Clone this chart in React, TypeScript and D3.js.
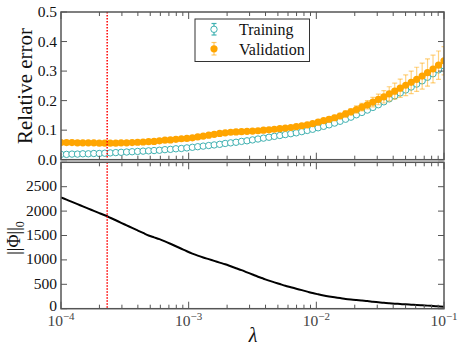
import React from "react";
import * as d3 from "d3";

// log10(lambda) grid
const logLambda = [
  -4.0, -3.957, -3.914, -3.871, -3.829, -3.786, -3.743, -3.7, -3.657, -3.614,
  -3.571, -3.529, -3.486, -3.443, -3.4, -3.357, -3.314, -3.271, -3.229, -3.186,
  -3.143, -3.1, -3.057, -3.014, -2.971, -2.929, -2.886, -2.843, -2.8, -2.757,
  -2.714, -2.671, -2.629, -2.586, -2.543, -2.5, -2.457, -2.414, -2.371, -2.329,
  -2.286, -2.243, -2.2, -2.157, -2.114, -2.071, -2.029, -1.986, -1.943, -1.9,
  -1.857, -1.814, -1.771, -1.729, -1.686, -1.643, -1.6, -1.557, -1.514, -1.471,
  -1.429, -1.386, -1.343, -1.3, -1.257, -1.214, -1.171, -1.129, -1.086, -1.043,
  -1.0,
];

const trainErr = [
  0.018, 0.018, 0.019, 0.019, 0.02, 0.02, 0.021, 0.021, 0.022, 0.023,
  0.024, 0.025, 0.026, 0.027, 0.028, 0.029, 0.03, 0.031, 0.032, 0.034,
  0.035, 0.037, 0.038, 0.04, 0.042, 0.044, 0.046, 0.048, 0.05, 0.052,
  0.055, 0.057, 0.059, 0.062, 0.064, 0.067, 0.07, 0.073, 0.076, 0.079,
  0.082, 0.085, 0.088, 0.091, 0.095, 0.099, 0.103, 0.108, 0.113, 0.118,
  0.124, 0.13, 0.137, 0.144, 0.152, 0.16, 0.168, 0.177, 0.186, 0.196,
  0.206, 0.216, 0.226, 0.236, 0.246, 0.256, 0.267, 0.279, 0.291, 0.304,
  0.318,
];
const trainSd = [
  0.001, 0.001, 0.001, 0.001, 0.001, 0.001, 0.001, 0.001, 0.001, 0.001,
  0.001, 0.001, 0.001, 0.001, 0.001, 0.001, 0.001, 0.001, 0.001, 0.001,
  0.001, 0.001, 0.001, 0.001, 0.001, 0.001, 0.001, 0.001, 0.001, 0.001,
  0.001, 0.001, 0.001, 0.001, 0.001, 0.001, 0.001, 0.001, 0.001, 0.001,
  0.001, 0.001, 0.001, 0.001, 0.001, 0.002, 0.002, 0.002, 0.002, 0.002,
  0.002, 0.002, 0.002, 0.002, 0.002, 0.002, 0.003, 0.003, 0.003, 0.003,
  0.003, 0.003, 0.004, 0.004, 0.004, 0.004, 0.004, 0.005, 0.005, 0.005,
  0.005,
];

const validErr = [
  0.058, 0.058, 0.058, 0.057, 0.057, 0.057, 0.057, 0.056, 0.056, 0.056,
  0.056, 0.057, 0.057, 0.058, 0.059, 0.06, 0.061, 0.062, 0.064, 0.066,
  0.067, 0.069, 0.071, 0.072, 0.074, 0.077, 0.08, 0.083, 0.086, 0.089,
  0.091, 0.093, 0.094, 0.095, 0.096, 0.097, 0.098, 0.1, 0.101, 0.103,
  0.105, 0.107, 0.109, 0.112, 0.115, 0.118, 0.122, 0.127, 0.132, 0.137,
  0.142, 0.148, 0.155, 0.162, 0.17, 0.178, 0.186, 0.195, 0.204, 0.213,
  0.223, 0.232, 0.242, 0.252, 0.262, 0.272, 0.283, 0.295, 0.307, 0.32,
  0.335,
];
const validSd = [
  0.002, 0.002, 0.002, 0.002, 0.002, 0.002, 0.002, 0.002, 0.002, 0.002,
  0.002, 0.002, 0.002, 0.002, 0.002, 0.002, 0.002, 0.002, 0.002, 0.002,
  0.002, 0.003, 0.003, 0.003, 0.003, 0.003, 0.003, 0.003, 0.003, 0.003,
  0.003, 0.003, 0.003, 0.003, 0.003, 0.003, 0.004, 0.004, 0.004, 0.004,
  0.004, 0.005, 0.005, 0.005, 0.006, 0.006, 0.006, 0.007, 0.007, 0.008,
  0.008, 0.009, 0.01, 0.011, 0.012, 0.013, 0.014, 0.016, 0.018, 0.021,
  0.024, 0.027, 0.031, 0.035, 0.038, 0.041, 0.044, 0.046, 0.047, 0.048,
  0.048,
];

const phiNorm = [
  2280, 2234, 2188, 2142, 2096, 2050, 2004, 1958, 1914, 1864,
  1812, 1760, 1708, 1656, 1604, 1552, 1500, 1462, 1425, 1380,
  1331, 1280, 1228, 1177, 1130, 1088, 1050, 1015, 980, 945,
  910, 870, 830, 790, 745, 700, 655, 615, 575, 540,
  505, 470, 440, 410, 380, 350, 320, 295, 272, 252,
  234, 218, 200, 187, 176, 166, 157, 144, 132, 120,
  111, 103, 96, 89, 83, 77, 70, 63, 56, 49,
  42,
];

const lambdaOpt = 2.3e-4;
const xTickExps = [-4, -3, -2, -1];
const topYTicks = [0, 0.1, 0.2, 0.3, 0.4, 0.5];
const botYTicks = [0, 500, 1000, 1500, 2000, 2500, 3000];
const botYLabels = ["0", "500", "1000", "1500", "2000", "2500", ""];
const seriesNames = ["Training", "Validation"];

const X0 = 61, X1 = 444;
const TY0 = 12, TY1 = 159.7;
const BY0 = 162.3, BY1 = 308.7;

const FONT = '"Liberation Serif"';
const TEAL = "#3fb1b1";
const ORANGE = "#ffa500";
const SPINE = "#555";

export default function App() {
  const lambdas = logLambda.map((e) => Math.pow(10, e));
  const x = d3.scaleLog().domain([1e-4, 1e-1]).range([X0, X1]);
  const yT = d3.scaleLinear().domain([0, 0.5]).range([TY1, TY0]);
  const yB = d3.scaleLinear().domain([0, 3000]).range([BY1, BY0]);
  const xTicks = x.ticks();
  const isMajor = (v: number) => Math.abs(Math.log10(v) - Math.round(Math.log10(v))) < 1e-6;
  const line = d3
    .line<number>()
    .x((_, i) => x(lambdas[i]))
    .y((d) => yB(d))
    .curve(d3.curveMonotoneX);

  const xTickMarks = (yb: number, yt: number) =>
    xTicks.map((t, i) => {
      const len = isMajor(t) ? 7 : 4;
      return (
        <g key={"xt" + i}>
          <line x1={x(t)} x2={x(t)} y1={yb} y2={yb - len} stroke={SPINE} strokeWidth={1} />
          <line x1={x(t)} x2={x(t)} y1={yt} y2={yt + len} stroke={SPINE} strokeWidth={1} />
        </g>
      );
    });

  const errBars = (vals: number[], sds: number[], color: string, op: number, key: string) =>
    vals.map((v, i) => {
      const cx = x(lambdas[i]);
      const t = yT(v + sds[i]);
      const b = yT(v - sds[i]);
      return (
        <g key={key + i} stroke={color} strokeOpacity={op} strokeWidth={1.2}>
          <line x1={cx} x2={cx} y1={t} y2={b} />
          <line x1={cx - 2.5} x2={cx + 2.5} y1={t} y2={t} />
          <line x1={cx - 2.5} x2={cx + 2.5} y1={b} y2={b} />
        </g>
      );
    });

  const txt = { fontFamily: FONT };

  return (
    <svg width={463} height={352} style={{ position: "absolute", left: 0, top: 0 }}>
      <defs>
        <clipPath id="clipTop">
          <rect x={X0} y={TY0} width={X1 - X0} height={TY1 - TY0} />
        </clipPath>
        <clipPath id="clipBot">
          <rect x={X0} y={BY0} width={X1 - X0} height={BY1 - BY0} />
        </clipPath>
      </defs>
      <rect width={463} height={352} fill="#fff" />

      {/* TOP PANEL */}
      <g clipPath="url(#clipTop)">
        {errBars(trainErr, trainSd, TEAL, 0.8, "te")}
        {trainErr.map((v, i) => (
          <circle key={"tc" + i} cx={x(lambdas[i])} cy={yT(v)} r={3.2} fill="#fff" stroke={TEAL} strokeWidth={1} />
        ))}
        {errBars(validErr, validSd, ORANGE, 0.5, "ve")}
        {validErr.map((v, i) => (
          <circle key={"vc" + i} cx={x(lambdas[i])} cy={yT(v)} r={3.6} fill={ORANGE} />
        ))}
        <line x1={x(lambdaOpt)} x2={x(lambdaOpt)} y1={TY0} y2={TY1} stroke="#f00" strokeWidth={1.5} strokeDasharray="1.5,1.5" />
      </g>
      {xTickMarks(TY1, TY0)}
      {topYTicks.map((t, i) => (
        <g key={"yt" + i}>
          <line x1={X0} x2={X0 + 6} y1={yT(t)} y2={yT(t)} stroke={SPINE} />
          <line x1={X1} x2={X1 - 6} y1={yT(t)} y2={yT(t)} stroke={SPINE} />
          <text style={txt} x={57} y={yT(t) + 5} textAnchor="end" fontSize={15.5} fill="#111">
            {d3.format(".1f")(t)}
          </text>
        </g>
      ))}
      <rect x={X0} y={TY0} width={X1 - X0} height={TY1 - TY0} fill="none" stroke={SPINE} strokeWidth={1.5} />
      <text style={txt} transform={`translate(32,86) rotate(-90)`} textAnchor="middle" fontSize={21} fill="#111">
        Relative error
      </text>

      {/* Legend */}
      <rect x={195} y={19} width={114.5} height={42.5} fill="#fff" stroke="#333" strokeWidth={1} />
      <g stroke={TEAL} strokeWidth={1.2}>
        <line x1={214} x2={214} y1={23.5} y2={35} />
        <line x1={211.5} x2={216.5} y1={23.5} y2={23.5} />
        <line x1={211.5} x2={216.5} y1={35} y2={35} />
      </g>
      <circle cx={214} cy={29.3} r={3.2} fill="#fff" stroke={TEAL} />
      <g stroke={ORANGE} strokeOpacity={0.6} strokeWidth={1.2}>
        <line x1={214} x2={214} y1={42.5} y2={55} />
        <line x1={211.5} x2={216.5} y1={42.5} y2={42.5} />
        <line x1={211.5} x2={216.5} y1={55} y2={55} />
      </g>
      <circle cx={214} cy={48.8} r={3.6} fill={ORANGE} />
      <text style={txt} x={239} y={35} fontSize={16} fill="#111">{seriesNames[0]}</text>
      <text style={txt} x={239} y={54.5} fontSize={16} fill="#111">{seriesNames[1]}</text>

      {/* BOTTOM PANEL */}
      <g clipPath="url(#clipBot)">
        <path d={line(phiNorm) || ""} fill="none" stroke="#000" strokeWidth={2} />
        <line x1={x(lambdaOpt)} x2={x(lambdaOpt)} y1={BY0} y2={BY1} stroke="#f00" strokeWidth={1.5} strokeDasharray="1.5,1.5" />
      </g>
      {xTickMarks(BY1, BY0)}
      {botYTicks.map((t, i) => (
        <g key={"yb" + i}>
          <line x1={X0} x2={X0 + 6} y1={yB(t)} y2={yB(t)} stroke={SPINE} />
          <line x1={X1} x2={X1 - 6} y1={yB(t)} y2={yB(t)} stroke={SPINE} />
          <text style={txt} x={57} y={yB(t) + (t === 0 ? 2.5 : 4.5)} textAnchor="end" fontSize={15.5} fill="#111">
            {botYLabels[i]}
          </text>
        </g>
      ))}
      <rect x={X0} y={BY0} width={X1 - X0} height={BY1 - BY0} fill="none" stroke={SPINE} strokeWidth={1.5} />
      {xTickExps.map((e, i) => (
        <text style={txt} key={"xl" + i} x={x(Math.pow(10, e))} y={326} textAnchor="middle" fontSize={15.5} fill="#444">
          10
          <tspan dy={-6} fontSize={11}>{"\u2212" + Math.abs(e)}</tspan>
        </text>
      ))}
      <text style={txt} x={253} y={342} textAnchor="middle" fontSize={20} fontStyle="italic" fill="#111">
        λ
      </text>
      <text style={txt} transform={`translate(20,238) rotate(-90)`} textAnchor="middle" fontSize={18} fill="#111">
        ||Φ||<tspan dy={4} fontSize={12}>0</tspan>
      </text>
    </svg>
  );
}
